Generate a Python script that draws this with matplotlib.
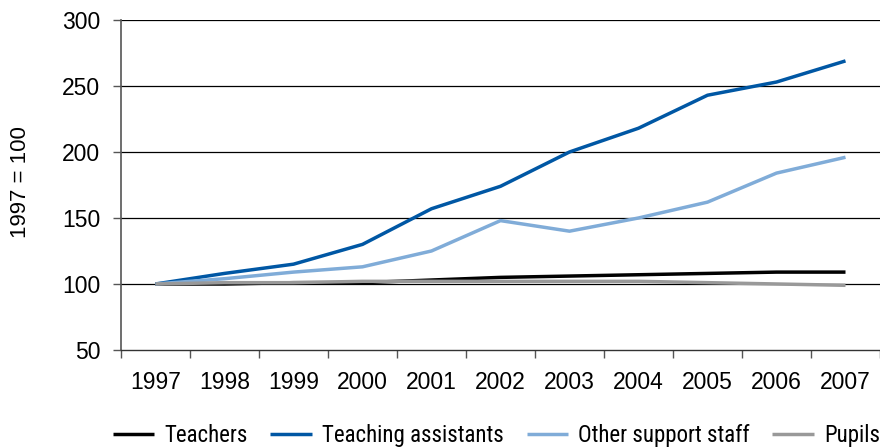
import matplotlib
matplotlib.use("Agg")
import matplotlib.pyplot as plt
import numpy as np
from matplotlib import font_manager
from matplotlib.font_manager import FontProperties

years = ["1997", "1998", "1999", "2000", "2001", "2002",
         "2003", "2004", "2005", "2006", "2007"]

teachers = [100, 100, 101, 101, 103, 105, 106, 107, 108, 109, 109]
teaching_assistants = [100, 108, 115, 130, 157, 174, 200, 218, 243, 253, 269]
other_support = [100, 104, 109, 113, 125, 148, 140, 150, 162, 184, 196]
pupils = [100, 101, 101, 102, 102, 102, 102, 102, 101, 100, 99]

series = [
    ("Teachers", teachers, "#000000"),
    ("Teaching assistants", teaching_assistants, "#0057a4"),
    ("Other support staff", other_support, "#80acd8"),
    ("Pupils", pupils, "#999999"),
]

LEGEND_SIZE = 16.5


def _condensed_font():
    """Find a condensed sans font for the legend, if one is installed."""
    cands = []
    for f in font_manager.fontManager.ttflist:
        fn = f.fname.lower()
        if f.style != "normal" or f.weight not in (400, "normal", "regular"):
            continue
        if "mono" in fn or ("serif" in fn and "sans" not in fn):
            continue
        if "narrow" in fn or "condensed" in fn or str(f.stretch) in ("condensed", "semi-condensed"):
            cands.append(f)
    pref = ["liberationsansnarrow", "liberation", "roboto", "opensans", "dejavusans", "noto"]
    for p in pref:
        for f in cands:
            if p in f.fname.lower().replace("-", "").replace("_", ""):
                return FontProperties(fname=f.fname, size=LEGEND_SIZE), True
    if cands:
        return FontProperties(fname=cands[0].fname, size=LEGEND_SIZE), True
    return FontProperties(family="Liberation Sans", size=12), False


plt.rcParams["font.family"] = "Liberation Sans"

fig = plt.figure(figsize=(8.8, 4.48), dpi=100)
ax = fig.add_axes([0.1375, 0.2188, 0.8625, 0.7366])

x = np.arange(len(years))
for label, vals, color in series:
    ax.plot(x, vals, color=color, lw=2.5, label=label, solid_capstyle="butt",
            zorder=3)

ax.set_xlim(-0.5, len(years) - 0.5)
ax.set_ylim(50, 300)
ax.set_yticks(range(50, 301, 50))
ax.set_xticks(x)
ax.set_xticklabels(years)
ax.set_xticks(np.arange(-0.5, len(years), 1), minor=True)
ax.tick_params(axis="x", which="major", length=0, labelsize=16.5, pad=15)
ax.tick_params(axis="x", which="minor", length=6, width=1, color="#555555",
               direction="out")
ax.tick_params(axis="y", length=6, width=1, color="#555555", labelsize=16.5,
               pad=9)

for v in range(100, 301, 50):
    ax.axhline(v, color="#000000", lw=0.9, zorder=1)

for s in ["top", "right"]:
    ax.spines[s].set_visible(False)
ax.spines["left"].set_color("#555555")
ax.spines["bottom"].set_color("#333333")
ax.spines["left"].set_linewidth(1.2)
ax.spines["bottom"].set_linewidth(1.0)

ax.set_ylabel("1997 = 100", fontsize=16)
ax.yaxis.set_label_coords(-0.119, 0.51)

prop, is_condensed = _condensed_font()
fs = prop.get_size_in_points()
handles, labels = ax.get_legend_handles_labels()
fig.legend(handles, labels, loc="center", bbox_to_anchor=(0.564, 0.028),
           ncol=4, frameon=False,
           handlelength=30.0 / fs, handletextpad=7.0 / fs,
           columnspacing=16.5 / fs, borderaxespad=0, prop=prop)

fig.savefig("out.png", dpi=100)
